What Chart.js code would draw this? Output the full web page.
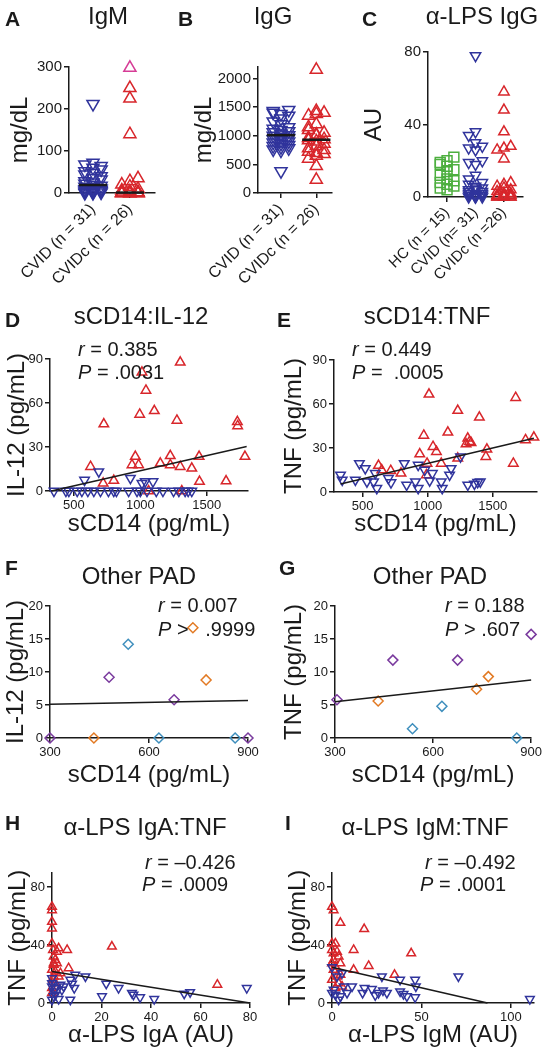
<!DOCTYPE html>
<html>
<head>
<meta charset="utf-8">
<script src="https://cdn.jsdelivr.net/npm/chart.js@4.4.1/dist/chart.umd.min.js"></script>
<style>
body { margin: 0; background: #fff; }
#fig { position: relative; width: 544px; height: 1050px; font-family: 'Liberation Sans', Arial, sans-serif; color: #1a1a1a; overflow: hidden; }
#fig canvas { position: absolute; }
.txt { position: absolute; white-space: nowrap; line-height: 1; }
.lt { font-weight: bold; font-size: 21px; }
.ttl { font-size: 24px; transform: translateX(-50%); }
.ann { font-size: 20px; }
</style>
</head>
<body>
<div id="fig">
  <canvas id="cA" width="170" height="290" style="left:0;top:0"></canvas>
  <canvas id="cB" width="170" height="290" style="left:170px;top:0"></canvas>
  <canvas id="cC" width="204" height="290" style="left:340px;top:0"></canvas>
  <canvas id="cD" width="272" height="255" style="left:0;top:290px"></canvas>
  <canvas id="cE" width="272" height="255" style="left:272px;top:290px"></canvas>
  <canvas id="cF" width="272" height="250" style="left:0;top:545px"></canvas>
  <canvas id="cG" width="272" height="250" style="left:272px;top:545px"></canvas>
  <canvas id="cH" width="272" height="255" style="left:0;top:795px"></canvas>
  <canvas id="cI" width="272" height="255" style="left:272px;top:795px"></canvas>

  <div class="txt lt" style="left:5px;top:8px">A</div>
  <div class="txt ttl" style="left:108px;top:4px">IgM</div>
  <div class="txt lt" style="left:178px;top:8px">B</div>
  <div class="txt ttl" style="left:273px;top:4px">IgG</div>
  <div class="txt lt" style="left:362px;top:8px">C</div>
  <div class="txt ttl" style="left:482px;top:4px">α-LPS IgG</div>

  <div class="txt lt" style="left:5px;top:309px">D</div>
  <div class="txt ttl" style="left:141px;top:304px">sCD14:IL-12</div>
  <div class="txt ann" style="left:78px;top:339px"><i>r</i> = 0.385</div>
  <div class="txt ann" style="left:78px;top:362px"><i>P</i> = .0031</div>
  <div class="txt lt" style="left:277px;top:309px">E</div>
  <div class="txt ttl" style="left:427px;top:304px">sCD14:TNF</div>
  <div class="txt ann" style="left:352px;top:339px"><i>r</i> = 0.449</div>
  <div class="txt ann" style="left:352px;top:362px"><i>P</i> = &nbsp;.0005</div>

  <div class="txt lt" style="left:5px;top:557px">F</div>
  <div class="txt ttl" style="left:139px;top:564px">Other PAD</div>
  <div class="txt ann" style="left:158px;top:595px"><i>r</i> = 0.007</div>
  <div class="txt ann" style="left:158px;top:619px"><i>P</i> &gt; &nbsp;&nbsp;.9999</div>
  <div class="txt lt" style="left:279px;top:557px">G</div>
  <div class="txt ttl" style="left:430px;top:564px">Other PAD</div>
  <div class="txt ann" style="left:445px;top:595px"><i>r</i> = 0.188</div>
  <div class="txt ann" style="left:445px;top:619px"><i>P</i> &gt; .607</div>

  <div class="txt lt" style="left:5px;top:812px">H</div>
  <div class="txt ttl" style="left:145px;top:815px">α-LPS IgA:TNF</div>
  <div class="txt ann" style="left:145px;top:852px"><i>r</i> = –0.426</div>
  <div class="txt ann" style="left:142px;top:874px"><i>P</i> = .0009</div>
  <div class="txt lt" style="left:285px;top:812px">I</div>
  <div class="txt ttl" style="left:425px;top:815px">α-LPS IgM:TNF</div>
  <div class="txt ann" style="left:425px;top:852px"><i>r</i> = –0.492</div>
  <div class="txt ann" style="left:420px;top:874px"><i>P</i> = .0001</div>
</div>

<script>
// ---------------- data ----------------
// A, B: serum immunoglobulins by group
var groupsAB = ['CVID (n = 31)', 'CVIDc (n = 26)'];
var igmCvid = [212, 72, 68, 64, 60, 56, 52, 48, 44, 40, 36, 32, 28, 25, 22, 19, 17, 15, 13, 11, 9, 8, 7, 6, 5, 4, 3, 2, 1, 0, 0];
var igmCvidc = [250, 225, 140, 35, 28, 20, 15, 10, 6, 4, 2, 1, 1, 0, 0, 0, 0, 0, 0, 0, 0, 0, 0, 0, 0];
var igmCvidcPink = [298];
var iggCvid = [1450, 1430, 1400, 1380, 1350, 1300, 1250, 1200, 1150, 1120, 1100, 1080, 1060, 1040, 1020, 1010, 1000, 980, 960, 940, 920, 900, 880, 860, 840, 820, 800, 780, 760, 740, 380];
var iggCvidc = [2150, 1430, 1400, 1380, 1350, 1200, 1150, 1100, 1050, 1020, 1000, 960, 940, 920, 900, 860, 820, 780, 750, 720, 700, 680, 650, 600, 470, 230];

// C: anti-LPS IgG
var groupsC = ['HC (n = 15)', 'CVID (n= 31)', 'CVIDc (n =26)'];
var lpsHc = [22, 20, 19, 18, 17, 15, 14, 12, 10, 9, 8, 7, 6, 5, 4];
var lpsCvid = [78, 36, 34, 30, 28, 27, 26, 20, 19, 18, 12, 10, 8, 7, 6, 5, 5, 4, 4, 3, 3, 2, 2, 2, 1, 1, 1, 0, 0, 0, 0];
var lpsCvidc = [58, 48, 36, 28, 27, 26, 21, 8, 7, 6, 5, 4, 3, 2, 2, 1, 1, 1, 0.5, 0.5, 0, 0, 0, 0, 0, 0];

// D: sCD14 vs IL-12
var dCvidX = [350, 440, 462, 525, 560, 605, 650, 700, 760, 800, 820, 912, 975, 1000, 1050, 1120, 1170, 1250, 1290, 1337, 1360, 1387, 580, 687, 925, 1012, 1037, 1095];
var dCvidY = [0, 0, 0, 0, 0, 0, 0, 0, 0, 0, 0, 0, 0, 0, 0, 0, 0, 0, 0, 0, 0, 0, 7.5, 13.2, 8.7, 5.2, 6.4, 6.4];
var dCvidcX = [1300, 1012, 1042, 995, 1105, 1275, 725, 1730, 1732, 1787, 962, 937, 987, 1150, 1225, 1225, 1300, 1442, 1387, 625, 800, 720, 1445, 1645, 1062, 1312];
var dCvidcY = [87.7, 80.9, 68.6, 52.2, 54.7, 48.1, 45.6, 47.2, 44.4, 23.5, 23.5, 17.8, 17.8, 18.9, 24, 17.8, 16.6, 23.5, 15.5, 16.6, 7.1, 5.2, 6.4, 6.8, 0, 0];
var dFit = [[330, 0], [1800, 30.3]];

// E: sCD14 vs TNF
var eCvidX = [330, 343, 475, 444, 520, 533, 597, 584, 609, 698, 718, 820, 838, 927, 906, 927, 977, 1015, 1036, 1104, 1112, 1168, 1180, 1252, 1308, 1359, 1384, 1404];
var eCvidY = [11.6, 8.2, 19.5, 8.2, 16.1, 7, 12.7, 7, 2.5, 9.3, 6.4, 19.5, 4.8, 18.4, 7, 2.5, 15, 7.7, 12.7, 7, 2.5, 11.6, 16.1, 24.1, 4.8, 5.5, 6.6, 7];
var eCvidcX = [1010, 1231, 1397, 1676, 970, 1155, 1041, 1067, 1308, 1321, 1295, 1333, 1752, 1816, 1455, 1447, 1231, 939, 995, 1104, 622, 795, 647, 716, 990, 1658];
var eCvidcY = [66.6, 55.5, 50.9, 64.3, 38.6, 40.7, 30.9, 27.5, 36.6, 34.3, 32.7, 33.6, 35.5, 37.3, 29.1, 24.1, 23, 25.9, 19.5, 19.5, 18, 12.7, 15, 14.5, 11.6, 19.5];
var eFit = [[330, 5.5], [1816, 36.6]];

// F, G: other PAD (three subgroups)
var fPurpleX = [300, 479, 676, 900], fPurpleY = [0, 9.2, 5.8, 0];
var fOrangeX = [433, 773, 733], fOrangeY = [0, 8.8, 16.7];
var fTealX = [537, 630, 861], fTealY = [14.2, 0, 0];
var fFit = [[300, 5.1], [900, 5.7]];
var gPurpleX = [306, 477, 675, 900], gPurpleY = [5.8, 11.8, 11.8, 15.7];
var gOrangeX = [432, 733, 769], gOrangeY = [5.6, 7.4, 9.3];
var gTealX = [537, 627, 856], gTealY = [1.4, 4.8, 0];
var gFit = [[300, 5.5], [900, 8.8]];

// H: anti-LPS IgA vs TNF
var hCvidX = [0.7, 0, 1.3, 2.7, 4, 4.7, 7.4, 8.1, 7.4, 9, 9.4, 13.5, 21.9, 20.2, 26.9, 32.3, 32.9, 35.6, 41.3, 53.4, 55.8, 78.7, 0, 0.7, 0, 1.3, 3.4, 0];
var hCvidY = [4.6, 11.4, 5.7, 2.7, 9.1, 11.4, 16, 13.3, 2.3, 10.3, 19.4, 18.3, 13.3, 4.6, 10.3, 6.9, 5.7, 3.9, 2.7, 6.4, 7.5, 10.3, 13.7, 8, 17, 10.3, 12.6, 2.3];
var hCvidcX = [0, 0, 0, 0, 0, 0.4, 0.7, 0.7, 1.3, 2, 2.7, 0, 0.7, 1.3, 2.7, 6.1, 6.7, 24.2, 66.8, 0, 0.7, 2, 3.4, 0, 1.3, 0.4];
var hCvidcY = [66.3, 64, 56, 51.4, 41, 36.6, 32, 27.4, 29.7, 35.4, 37.7, 22.9, 18.3, 13.7, 18.3, 36.6, 24, 38.9, 12.6, 10.3, 26.3, 27.4, 20.6, 6.9, 21.7, 16];
var hFit = [[0, 21.7], [80, 0]];

// I: anti-LPS IgM vs TNF
var iCvidX = [0, 2.8, 5.6, 0.9, 1.9, 4.7, 11.2, 17.1, 18.2, 22.3, 24.2, 26, 28.5, 27.9, 38.1, 38.1, 40, 41.9, 46.5, 46.9, 46.5, 70.7, 110.7, 3.7, 0, 6.5, 30.7, 8.4];
var iCvidY = [24.7, 18.3, 20.6, 9.1, 5.7, 4.6, 11.4, 6.9, 10.3, 9.6, 5.3, 6.9, 8.7, 18.3, 16, 8, 6.2, 4.6, 16, 11.4, 3.9, 18.3, 2.7, 2.3, 6.9, 11.4, 6.9, 6.9];
var iCvidcX = [0, 0.9, 4.7, 18, 0, 1.9, 2.8, 3.7, 12.1, 44.3, 0.9, 4.7, 20.5, 12.1, 35, 0.9, 2.8, 0, 3.7, 5.6, 1.9, 0, 1.9, 4.7, 0.9, 0];
var iCvidcY = [66.3, 64, 55.3, 51, 36.6, 41, 35.4, 32, 36.6, 34.3, 29.7, 27.4, 25.6, 22.9, 19.4, 22.9, 18.3, 16, 13.7, 11.4, 10.3, 27.4, 25.1, 19.4, 34.3, 41];
var iFit = [[0, 24.7], [87, 0]];

// ---------------- styling ----------------
var INK = '#1a1a1a';
var FONT = "'Liberation Sans', Arial, sans-serif";
var BLUE = '#30349c', RED = '#d8262b', GREEN = '#4daf3f', PINK = '#d63c96';
var PURPLE = '#7a3b9e', ORANGE = '#e27a24', TEAL = '#3f8fbd';

function pts(xs, ys) {
    return xs.map(function (x, i) { return { x: x, y: ys[i] }; });
}

function median(arr) {
    var s = arr.slice().sort(function (a, b) { return a - b; });
    var m = Math.floor(s.length / 2);
    return s.length % 2 ? s[m] : (s[m - 1] + s[m]) / 2;
}

// spread a column of values sideways so markers don't sit on top of each other
function beeswarm(values, center, step, maxK, yTol) {
    var placed = [];
    var sorted = values.slice().sort(function (a, b) { return a - b; });
    return sorted.map(function (v) {
        var best = 0, bestHits = Infinity;
        for (var k = 0; k <= maxK && bestHits > 0; k++) {
            var offs = k === 0 ? [0] : [-k * step, k * step];
            offs.forEach(function (off) {
                var hits = 0;
                placed.forEach(function (p) {
                    if (Math.abs(p.y - v) < yTol && Math.abs(p.dx - off) < step * 1.5) hits++;
                });
                if (hits < bestHits) { bestHits = hits; best = off; }
            });
        }
        placed.push({ dx: best, y: v });
        return { x: center + best, y: v };
    });
}

function marks(data, style, color, r, rot) {
    return {
        data: data, pointStyle: style, pointRotation: rot || 0, pointRadius: r,
        borderColor: color, backgroundColor: 'rgba(0,0,0,0)', pointBorderWidth: 1.5, clip: false
    };
}

function seg(a, b, w) {
    return {
        data: [{ x: a[0], y: a[1] }, { x: b[0], y: b[1] }], showLine: true,
        borderColor: INK, borderWidth: w, pointRadius: 0, clip: false
    };
}

function axis(o) {
    return {
        type: 'linear', min: o.min, max: o.max,
        border: { color: INK, width: 1.5 },
        grid: { drawOnChartArea: false, color: INK, lineWidth: 1.5, tickLength: 5 },
        afterBuildTicks: function (s) {
            s.ticks = o.ticks.map(function (v) { return { value: v }; });
        },
        afterFit: function (s) {
            if (o.width) s.width = o.width;
            if (o.height) s.height = o.height;
        },
        ticks: {
            color: INK, font: { size: o.tickSize, family: FONT }, padding: 2,
            autoSkip: false, maxRotation: o.rot || 0, minRotation: o.rot || 0,
            callback: function (v, i) { return o.labels ? o.labels[i] : String(v); }
        },
        title: {
            display: !!o.title, text: o.title || '', color: INK,
            font: { size: 24, family: FONT }, padding: o.titlePad || 0
        }
    };
}

function panel(id, pad, xAxis, yAxis, datasets) {
    return new Chart(document.getElementById(id), {
        type: 'scatter',
        data: { datasets: datasets },
        options: {
            responsive: false, animation: false,
            layout: { padding: { left: 0, top: pad.top, right: pad.right, bottom: 0 } },
            plugins: { legend: { display: false }, tooltip: { enabled: false } },
            scales: { x: axis(xAxis), y: axis(yAxis) }
        }
    });
}

// ---------------- A ----------------
var igmC = igmCvidc.concat(igmCvidcPink);
panel('cA', { top: 67, right: 15 },
    { min: 0.35, max: 2.68, ticks: [1, 2], labels: groupsAB, tickSize: 16, rot: 45, height: 97 },
    { min: 0, max: 300, ticks: [0, 100, 200, 300], tickSize: 15, width: 69, title: 'mg/dL', titlePad: { top: 6 } },
    [
        seg([0.62, median(igmCvid)], [1.38, median(igmCvid)], 2.5),
        seg([1.62, median(igmC)], [2.38, median(igmC)], 2.5),
        marks(beeswarm(igmCvid, 1, 0.11, 3, 22), 'triangle', BLUE, 7, 180),
        marks(beeswarm(igmCvidc, 2, 0.11, 3, 22), 'triangle', RED, 7),
        marks(beeswarm(igmCvidcPink, 2, 0.11, 3, 22), 'triangle', PINK, 7)
    ]);

// ---------------- B ----------------
panel('cB', { top: 67, right: 5 },
    { min: 0.35, max: 2.43, ticks: [1, 2], labels: groupsAB, tickSize: 16, rot: 45, height: 97 },
    { min: 0, max: 2200, ticks: [0, 500, 1000, 1500, 2000], tickSize: 15, width: 88, title: 'mg/dL', titlePad: { top: 20 } },
    [
        seg([0.6, median(iggCvid)], [1.4, median(iggCvid)], 2.5),
        seg([1.6, median(iggCvidc)], [2.4, median(iggCvidc)], 2.5),
        marks(beeswarm(iggCvid, 1, 0.11, 3, 170), 'triangle', BLUE, 7, 180),
        marks(beeswarm(iggCvidc, 2, 0.11, 3, 170), 'triangle', RED, 7)
    ]);

// ---------------- C ----------------
panel('cC', { top: 52, right: 21 },
    { min: 0.33, max: 3.67, ticks: [1, 2, 3], labels: groupsC, tickSize: 15, rot: 45, height: 93 },
    { min: 0, max: 80, ticks: [0, 40, 80], tickSize: 15, width: 88, title: 'AU', titlePad: { top: 20 } },
    [
        marks(beeswarm(lpsHc, 1, 0.12, 3, 5.5), 'rect', GREEN, 7),
        marks(beeswarm(lpsCvid, 2, 0.12, 3, 5.5), 'triangle', BLUE, 6, 180),
        marks(beeswarm(lpsCvidc, 3, 0.12, 3, 5.5), 'triangle', RED, 6)
    ]);

// ---------------- D ----------------
panel('cD', { top: 69, right: 24 },
    { min: 320, max: 1810, ticks: [500, 1000, 1500], tickSize: 13, height: 54, title: 'sCD14 (pg/mL)', titlePad: { bottom: 6 } },
    { min: 0, max: 90, ticks: [0, 30, 60, 90], tickSize: 13, width: 50, title: 'IL-12 (pg/mL)', titlePad: { top: 3 } },
    [
        seg(dFit[0], dFit[1], 1.5),
        marks(pts(dCvidX, dCvidY), 'triangle', BLUE, 5.5, 180),
        marks(pts(dCvidcX, dCvidcY), 'triangle', RED, 5.5)
    ]);

// ---------------- E ----------------
panel('cE', { top: 70, right: 5 },
    { min: 280, max: 1840, ticks: [500, 1000, 1500], tickSize: 13, height: 53, title: 'sCD14 (pg/mL)', titlePad: { bottom: 6 } },
    { min: 0, max: 90, ticks: [0, 30, 60, 90], tickSize: 13, width: 62, title: 'TNF (pg/mL)', titlePad: { top: 8 } },
    [
        seg(eFit[0], eFit[1], 1.5),
        marks(pts(eCvidX, eCvidY), 'triangle', BLUE, 5.5, 180),
        marks(pts(eCvidcX, eCvidcY), 'triangle', RED, 5.5)
    ]);

// ---------------- F ----------------
panel('cF', { top: 61, right: 24 },
    { min: 300, max: 900, ticks: [300, 600, 900], tickSize: 13, height: 57, title: 'sCD14 (pg/mL)', titlePad: { bottom: 5 } },
    { min: 0, max: 20, ticks: [0, 5, 10, 15, 20], tickSize: 13, width: 50, title: 'IL-12 (pg/mL)', titlePad: { top: 2 } },
    [
        seg(fFit[0], fFit[1], 1.5),
        marks(pts(fPurpleX, fPurpleY), 'rectRot', PURPLE, 5),
        marks(pts(fOrangeX, fOrangeY), 'rectRot', ORANGE, 5),
        marks(pts(fTealX, fTealY), 'rectRot', TEAL, 5)
    ]);

// ---------------- G ----------------
panel('cG', { top: 61, right: 10 },
    { min: 300, max: 900, ticks: [300, 600, 900], tickSize: 13, height: 57, title: 'sCD14 (pg/mL)', titlePad: { bottom: 5 } },
    { min: 0, max: 20, ticks: [0, 5, 10, 15, 20], tickSize: 13, width: 63, title: 'TNF (pg/mL)', titlePad: { top: 8 } },
    [
        seg(gFit[0], gFit[1], 1.5),
        marks(pts(gPurpleX, gPurpleY), 'rectRot', PURPLE, 5),
        marks(pts(gOrangeX, gOrangeY), 'rectRot', ORANGE, 5),
        marks(pts(gTealX, gTealY), 'rectRot', TEAL, 5)
    ]);

// ---------------- H ----------------
panel('cH', { top: 77.5, right: 22 },
    { min: 0, max: 80, ticks: [0, 20, 40, 60, 80], tickSize: 13, height: 47, title: 'α-LPS IgA (AU)', titlePad: { bottom: 0 } },
    { min: 0, max: 90, ticks: [0, 40, 80], tickSize: 13, width: 52, title: 'TNF (pg/mL)', titlePad: { top: 4 } },
    [
        seg(hFit[0], hFit[1], 1.5),
        marks(pts(hCvidX, hCvidY), 'triangle', BLUE, 5, 180),
        marks(pts(hCvidcX, hCvidcY), 'triangle', RED, 5)
    ]);

// ---------------- I ----------------
panel('cI', { top: 77.5, right: 10 },
    { min: 0, max: 113, ticks: [0, 50, 100], tickSize: 13, height: 47, title: 'α-LPS IgM (AU)', titlePad: { bottom: 0 } },
    { min: 0, max: 90, ticks: [0, 40, 80], tickSize: 13, width: 60, title: 'TNF (pg/mL)', titlePad: { top: 12 } },
    [
        seg(iFit[0], iFit[1], 1.5),
        marks(pts(iCvidX, iCvidY), 'triangle', BLUE, 5, 180),
        marks(pts(iCvidcX, iCvidcY), 'triangle', RED, 5)
    ]);
</script>
</body>
</html>
